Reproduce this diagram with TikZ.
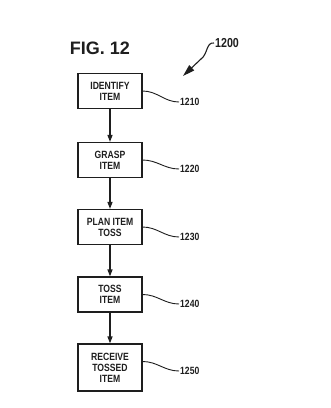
\documentclass[tikz,border=0pt]{standalone}
\usepackage{fontspec}
\setmainfont{Liberation Sans}
\newfontfamily\narrowfont[FakeStretch=0.82]{Liberation Sans}
\usetikzlibrary{arrows.meta, calc}
\definecolor{inkgray}{RGB}{30,30,30}
\tikzset{
  stepbox/.style={
    draw=inkgray, line width=1.2pt, text=inkgray,
    minimum width=64pt, minimum height=35pt,
    align=center, inner sep=2pt,
    font=\narrowfont\bfseries\fontsize{10.5}{11}\selectfont
  },
  flow/.style={-{Triangle[length=7pt,width=5pt]}, line width=1.2pt, inkgray},
  leader/.style={line width=0.9pt, inkgray},
  refnum/.style={anchor=west, text=inkgray, inner sep=1pt,
    font=\narrowfont\bfseries\fontsize{10.5}{12}\selectfont}
}

\begin{document}
\begin{tikzpicture}[x=1pt, y=-1pt]
  \useasboundingbox (0,0) rectangle (331,408);
  % title and overall reference
  \node[text=inkgray, font=\bfseries\fontsize{18}{20}\selectfont] (title) at (100,48) {FIG. 12};
  \node[refnum, font=\narrowfont\bfseries\fontsize{13}{14}\selectfont] (r1200) at (214,43) {1200};
  \coordinate (tip1200) at (183,76);
  \draw[line width=1.1pt, inkgray, -{Triangle[length=12pt,width=7pt]}]
    (r1200.west) .. controls (206,42) and (208,54) .. (201,59) -- (tip1200);
  % steps
  \foreach \n/\y/\txt in {1/91/{IDENTIFY\\ITEM}, 2/160/{GRASP\\ITEM},
      3/227/{PLAN ITEM\\TOSS}, 4/294.5/{TOSS\\ITEM}}
    \node[stepbox] (b\n) at (110,\y) {\txt};
  \node[stepbox, minimum height=47pt] (b5) at (110,367.5) {RECEIVE\\TOSSED\\ITEM};
  \foreach \a/\b in {1/2, 2/3, 3/4, 4/5}
    \draw[flow] (b\a) -- (b\b);
  % reference numerals
  \foreach \n/\y in {1/102, 2/169, 3/237, 4/304, 5/371}
    \node[refnum] (r\n) at (179,\y) {12\n0};
  \foreach \n in {1,...,4}
    \draw[leader] (b\n.east) to[out=0, in=180] (r\n.west);
  \draw[leader] ($(b5.east)+(0,-6)$) to[out=0, in=180] (r5.west);
\end{tikzpicture}
\end{document}
